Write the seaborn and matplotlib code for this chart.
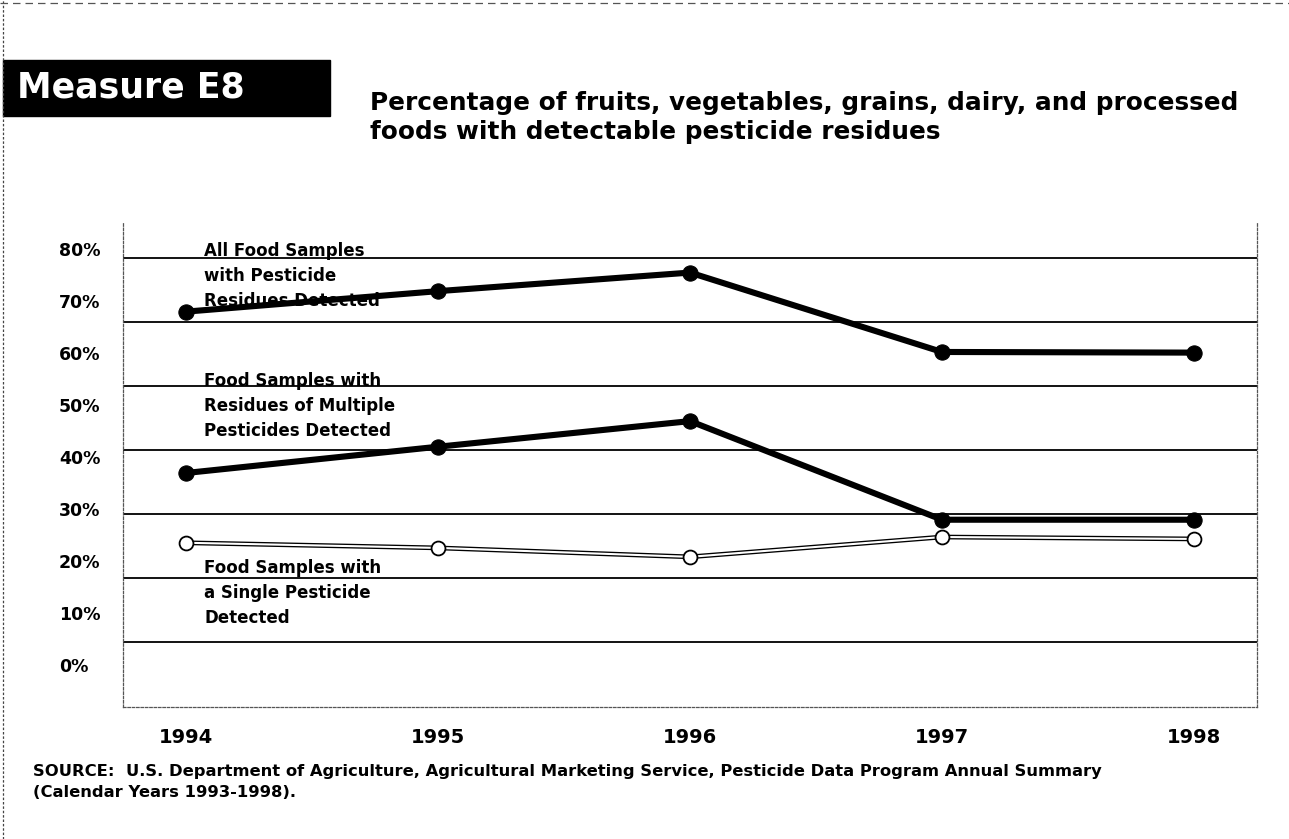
import matplotlib.pyplot as plt
import seaborn as sns
from matplotlib.patches import Rectangle
from matplotlib.lines import Line2D

# values (percent of samples)
years = [1994, 1995, 1996, 1997, 1998]
all_food = [61.6, 64.8, 67.7, 55.3, 55.2]
multiple = [36.4, 40.5, 44.5, 29.1, 29.1]
single = [25.5, 24.7, 23.3, 26.4, 26.1]

grid_levels = [10, 20, 30, 40, 50, 60, 70]
label_levels = [0, 10, 20, 30, 40, 50, 60, 70, 80]
label_text = [f"{v}%" for v in label_levels]

title_box = "Measure E8"
title = ("Percentage of fruits, vegetables, grains, dairy, and processed\n"
         "foods with detectable pesticide residues")
note_all = "All Food Samples\nwith Pesticide\nResidues Detected"
note_multi = "Food Samples with\nResidues of Multiple\nPesticides Detected"
note_single = "Food Samples with\na Single Pesticide\nDetected"
source = ("SOURCE:  U.S. Department of Agriculture, Agricultural Marketing Service, "
          "Pesticide Data Program Annual Summary\n(Calendar Years 1993-1998).")

sns.set_style("white")
plt.rcParams['font.family'] = ['DejaVu Sans']
plt.rcParams['text.color'] = 'black'
plt.rcParams['xtick.color'] = 'black'
plt.rcParams['ytick.color'] = 'black'

W, H = 1289, 839
fig = plt.figure(figsize=(W / 100, H / 100), dpi=100)

def fx(px):
    return px / W

def fy(py):
    return 1 - py / H

ax = fig.add_axes([fx(123), fy(707), fx(1257) - fx(123), fy(222) - fy(707)])

# lines
sns.lineplot(x=years, y=all_food, ax=ax, color="black", lw=4.4, marker="o",
             markersize=11, markeredgecolor="black", zorder=5)
sns.lineplot(x=years, y=multiple, ax=ax, color="black", lw=4.4, marker="o",
             markersize=11, markeredgecolor="black", zorder=5)
sns.lineplot(x=years, y=single, ax=ax, color="black", lw=3.4, zorder=4)
sns.lineplot(x=years, y=single, ax=ax, color="white", lw=1.5, marker="o",
             markersize=10, markerfacecolor="white", markeredgecolor="black",
             markeredgewidth=1.3, zorder=4)

ax.set_xlim(1993.75, 1998.25)
ax.set_ylim(-0.15, 75.6)
ax.set_yticks(grid_levels)
ax.yaxis.grid(True, color="black", lw=1.3)
ax.xaxis.grid(False)
ax.set_xticks(years)
ax.set_xticklabels([str(y) for y in years], fontsize=14, fontweight="bold")
ax.tick_params(axis="x", length=0, pad=15)
ax.set_xlabel("")
ax.set_ylabel("")
ax.spines["top"].set_visible(False)
for side in ["left", "right", "bottom"]:
    ax.spines[side].set_linestyle((0, (2, 1.5)))
    ax.spines[side].set_color("#555555")
    ax.spines[side].set_linewidth(0.9)

# the printed percentage labels sit on their own scale in the original
ax2 = ax.twinx()
ax2.set_ylim(-8.08, 85.19)
ax2.set_yticks(label_levels)
ax2.set_yticklabels(label_text, fontsize=12.5, fontweight="bold")
ax2.yaxis.tick_left()
ax2.tick_params(axis="y", length=0, pad=46)
for lab in ax2.get_yticklabels():
    lab.set_horizontalalignment("left")
for s in ax2.spines.values():
    s.set_visible(False)
ax.tick_params(axis="y", left=False, right=False, length=0,
               labelleft=False, labelright=False)

# series labels
for txt, top in [(note_all, 242), (note_multi, 372), (note_single, 559)]:
    fig.text(fx(204), fy(top), txt, fontsize=12, fontweight="bold",
             va="top", ha="left", linespacing=1.5)

# header
fig.patches.append(Rectangle((fx(3), fy(116)), fx(330) - fx(3), fy(60) - fy(116),
                             transform=fig.transFigure, color="black"))
fig.text(fx(17), fy(88), title_box, color="white", fontsize=25,
         fontweight="heavy", va="center", ha="left")
fig.text(fx(370), fy(91), title, fontsize=17.8, fontweight="heavy",
         va="top", ha="left", linespacing=1.25)

fig.text(fx(33), fy(764), source, fontsize=11.8, fontweight="bold",
         va="top", ha="left", linespacing=1.5)

# page border from the scan
fig.lines.append(Line2D([fx(3), fx(3)], [0, 1], transform=fig.transFigure,
                        color="#444444", lw=0.9, ls=(0, (2, 1.5))))
fig.lines.append(Line2D([0, 1], [fy(3), fy(3)], transform=fig.transFigure,
                        color="#555555", lw=0.9, ls=(0, (6, 4))))

fig.savefig("out.png", dpi=100)
